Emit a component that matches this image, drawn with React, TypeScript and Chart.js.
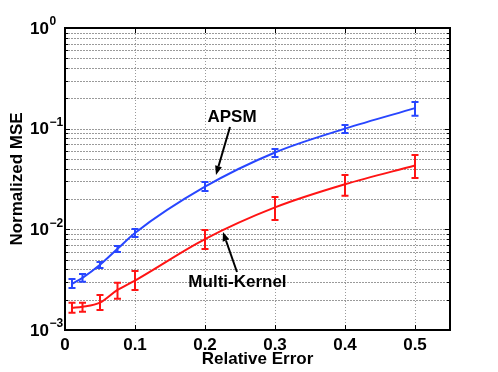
import React, { useEffect, useRef } from "react";
import { Chart, registerables } from "chart.js";

Chart.register(...registerables);

// ---- data ----
const xValues = [0.01, 0.025, 0.05, 0.075, 0.1, 0.2, 0.3, 0.4, 0.5];
const apsmMean = [2.87e-3, 3.3e-3, 4.45e-3, 6.4e-3, 9.2e-3, 2.65e-2, 5.8e-2, 0.1, 0.16];
const apsmLow = [2.62e-3, 3.01e-3, 4.14e-3, 5.97e-3, 8.4e-3, 2.41e-2, 5.24e-2, 0.0906, 0.134];
const apsmHigh = [3.22e-3, 3.61e-3, 4.75e-3, 6.84e-3, 1.01e-2, 2.96e-2, 6.29e-2, 0.109, 0.184];
const mkMean = [1.66e-3, 1.7e-3, 1.87e-3, 2.5e-3, 3.1e-3, 8.0e-3, 1.65e-2, 2.8e-2, 4.3e-2];
const mkLow = [1.48e-3, 1.52e-3, 1.58e-3, 2.04e-3, 2.5e-3, 6.39e-3, 1.24e-2, 2.15e-2, 3.24e-2];
const mkHigh = [1.86e-3, 1.86e-3, 2.23e-3, 2.94e-3, 3.86e-3, 9.86e-3, 2.1e-2, 3.47e-2, 5.48e-2];

const xTicks = [0, 0.1, 0.2, 0.3, 0.4, 0.5];
const xTickLabels = ["0", "0.1", "0.2", "0.3", "0.4", "0.5"];
const yDecades = [1e-3, 1e-2, 1e-1, 1];
const yDecadeExponents = ["\u22123", "\u22122", "\u22121", "0"];
const minorMultipliers = [2, 3, 4, 5, 6, 7, 8, 9];

const seriesNames = ["APSM", "Multi-Kernel"];

// annotation anchors in data coordinates
const apsmLabel = { x: 0.2386, y: 0.129 };
const apsmArrow = { x0: 0.2357, y0: 0.104, x1: 0.2157, y1: 0.0347 };
const mkLabel = { x: 0.2464, y: 2.96e-3 };
const mkArrow = { x0: 0.2457, y0: 3.77e-3, x1: 0.2257, y1: 9.4e-3 };

const BLUE = "#2846ff";
const RED = "#ff1414";
const FONT = "'Liberation Sans', Arial, Helvetica, sans-serif";

const errorSets = [
  { lo: apsmLow, hi: apsmHigh, color: BLUE },
  { lo: mkLow, hi: mkHigh, color: RED },
];

const yMinorValues: number[] = [];
for (let i = 0; i < yDecades.length - 1; i++) {
  for (const m of minorMultipliers) yMinorValues.push(m * yDecades[i]);
}

function drawArrow(ctx: CanvasRenderingContext2D, x0: number, y0: number, x1: number, y1: number) {
  const ang = Math.atan2(y1 - y0, x1 - x0);
  const headLen = 9;
  const headHalf = 3.5;
  const bx = x1 - headLen * Math.cos(ang);
  const by = y1 - headLen * Math.sin(ang);
  ctx.beginPath();
  ctx.moveTo(x0, y0);
  ctx.lineTo(bx, by);
  ctx.stroke();
  ctx.beginPath();
  ctx.moveTo(x1, y1);
  ctx.lineTo(bx + headHalf * Math.sin(ang), by - headHalf * Math.cos(ang));
  ctx.lineTo(bx - headHalf * Math.sin(ang), by + headHalf * Math.cos(ang));
  ctx.closePath();
  ctx.fill();
}

const decorPlugin = {
  id: "decor",
  beforeDatasetsDraw(chart: any) {
    const { ctx, chartArea: a, scales } = chart;
    const x = scales.x;
    const y = scales.y;
    ctx.save();
    ctx.strokeStyle = "#9a9a9a";
    ctx.lineWidth = 1;
    ctx.setLineDash([1, 2]);
    for (const v of xTicks) {
      const px = Math.round(x.getPixelForValue(v)) + 0.5;
      if (px <= a.left + 2 || px >= a.right - 2) continue;
      ctx.beginPath();
      ctx.moveTo(px, a.top);
      ctx.lineTo(px, a.bottom);
      ctx.stroke();
    }
    ctx.setLineDash([2, 1]);
    for (const v of [...yDecades, ...yMinorValues]) {
      const py = Math.round(y.getPixelForValue(v)) + 0.5;
      if (py <= a.top + 2 || py >= a.bottom - 2) continue;
      ctx.beginPath();
      ctx.moveTo(a.left, py);
      ctx.lineTo(a.right, py);
      ctx.stroke();
    }
    ctx.restore();
  },
  afterDatasetsDraw(chart: any) {
    const { ctx, chartArea: a, scales } = chart;
    const x = scales.x;
    const y = scales.y;
    ctx.save();
    // error bars
    ctx.lineWidth = 2;
    errorSets.forEach((s) => {
      ctx.strokeStyle = s.color;
      xValues.forEach((xv, i) => {
        const px = x.getPixelForValue(xv);
        const pl = y.getPixelForValue(s.lo[i]);
        const ph = y.getPixelForValue(s.hi[i]);
        ctx.beginPath();
        ctx.moveTo(px, pl);
        ctx.lineTo(px, ph);
        ctx.moveTo(px - 3.5, pl);
        ctx.lineTo(px + 3.5, pl);
        ctx.moveTo(px - 3.5, ph);
        ctx.lineTo(px + 3.5, ph);
        ctx.stroke();
      });
    });

    // tick marks
    ctx.strokeStyle = "#000";
    ctx.lineWidth = 1;
    for (const v of xTicks) {
      const px = Math.round(x.getPixelForValue(v)) + 0.5;
      ctx.beginPath();
      ctx.moveTo(px, a.bottom);
      ctx.lineTo(px, a.bottom - 5);
      ctx.moveTo(px, a.top);
      ctx.lineTo(px, a.top + 5);
      ctx.stroke();
    }
    for (const v of yDecades) {
      const py = Math.round(y.getPixelForValue(v)) + 0.5;
      ctx.beginPath();
      ctx.moveTo(a.left, py);
      ctx.lineTo(a.left + 5, py);
      ctx.moveTo(a.right, py);
      ctx.lineTo(a.right - 5, py);
      ctx.stroke();
    }
    for (const v of yMinorValues) {
      const py = Math.round(y.getPixelForValue(v)) + 0.5;
      ctx.beginPath();
      ctx.moveTo(a.left, py);
      ctx.lineTo(a.left + 3, py);
      ctx.moveTo(a.right, py);
      ctx.lineTo(a.right - 3, py);
      ctx.stroke();
    }

    // box
    ctx.lineWidth = 2;
    ctx.strokeRect(a.left, a.top, a.right - a.left, a.bottom - a.top);

    // y tick labels 10^n
    ctx.fillStyle = "#000";
    yDecades.forEach((v, i) => {
      const py = y.getPixelForValue(v);
      ctx.font = `bold 17px ${FONT}`;
      ctx.textAlign = "right";
      ctx.textBaseline = "middle";
      ctx.fillText("10", 49, py + 1);
      ctx.font = `bold 12px ${FONT}`;
      ctx.textAlign = "left";
      ctx.fillText(yDecadeExponents[i], 49.5, py - 6);
    });

    // annotations
    ctx.font = `bold 17px ${FONT}`;
    ctx.textAlign = "center";
    ctx.textBaseline = "middle";
    ctx.fillText(seriesNames[0], x.getPixelForValue(apsmLabel.x), y.getPixelForValue(apsmLabel.y));
    ctx.fillText(seriesNames[1], x.getPixelForValue(mkLabel.x), y.getPixelForValue(mkLabel.y));
    ctx.strokeStyle = "#000";
    ctx.lineWidth = 2;
    drawArrow(
      ctx,
      x.getPixelForValue(apsmArrow.x0),
      y.getPixelForValue(apsmArrow.y0),
      x.getPixelForValue(apsmArrow.x1),
      y.getPixelForValue(apsmArrow.y1)
    );
    drawArrow(
      ctx,
      x.getPixelForValue(mkArrow.x0),
      y.getPixelForValue(mkArrow.y0),
      x.getPixelForValue(mkArrow.x1),
      y.getPixelForValue(mkArrow.y1)
    );
    ctx.restore();
  },
};

export default function App() {
  const canvasRef = useRef<HTMLCanvasElement | null>(null);

  useEffect(() => {
    const canvas = canvasRef.current;
    if (!canvas) return;
    const chart = new Chart(canvas, {
      type: "line",
      data: {
        datasets: [
          {
            label: seriesNames[0],
            data: xValues.map((xv, i) => ({ x: xv, y: apsmMean[i] })),
            borderColor: BLUE,
            backgroundColor: BLUE,
            borderWidth: 2,
            pointRadius: 0,
            cubicInterpolationMode: "monotone",
          },
          {
            label: seriesNames[1],
            data: xValues.map((xv, i) => ({ x: xv, y: mkMean[i] })),
            borderColor: RED,
            backgroundColor: RED,
            borderWidth: 2,
            pointRadius: 0,
            cubicInterpolationMode: "monotone",
          },
        ],
      },
      options: {
        animation: false,
        responsive: false,
        devicePixelRatio: 1,
        layout: { padding: { top: 28, right: 48, left: 0, bottom: 0 } },
        plugins: {
          legend: { display: false },
          tooltip: { enabled: false },
        },
        scales: {
          x: {
            type: "linear",
            min: 0,
            max: 0.55,
            afterBuildTicks: (s: any) => {
              s.ticks = xTicks.map((v) => ({ value: v }));
            },
            afterFit: (s: any) => {
              s.height = 42;
            },
            grid: { display: false, drawTicks: false },
            border: { display: false },
            ticks: {
              padding: 5,
              color: "#000",
              maxRotation: 0,
              autoSkip: false,
              font: { family: FONT, size: 17, weight: "bold" },
              callback: (_v: any, i: number) => xTickLabels[i],
            },
            title: {
              display: true,
              text: "Relative Error",
              color: "#000",
              font: { family: FONT, size: 17, weight: "bold" },
              padding: { top: 0, bottom: 2 },
            },
          },
          y: {
            type: "logarithmic",
            min: 1e-3,
            max: 1,
            afterFit: (s: any) => {
              s.width = 65;
            },
            grid: { display: false, drawTicks: false },
            border: { display: false },
            ticks: { display: false },
            title: {
              display: true,
              text: "Normalized MSE",
              color: "#000",
              font: { family: FONT, size: 17, weight: "bold" },
              padding: { top: 7, bottom: 0 },
            },
          },
        },
      } as any,
      plugins: [decorPlugin],
    });
    return () => chart.destroy();
  }, []);

  return (
    <div style={{ position: "fixed", left: 0, top: 0, width: 498, height: 372, background: "#fff" }}>
      <canvas ref={canvasRef} width={498} height={372} />
    </div>
  );
}
